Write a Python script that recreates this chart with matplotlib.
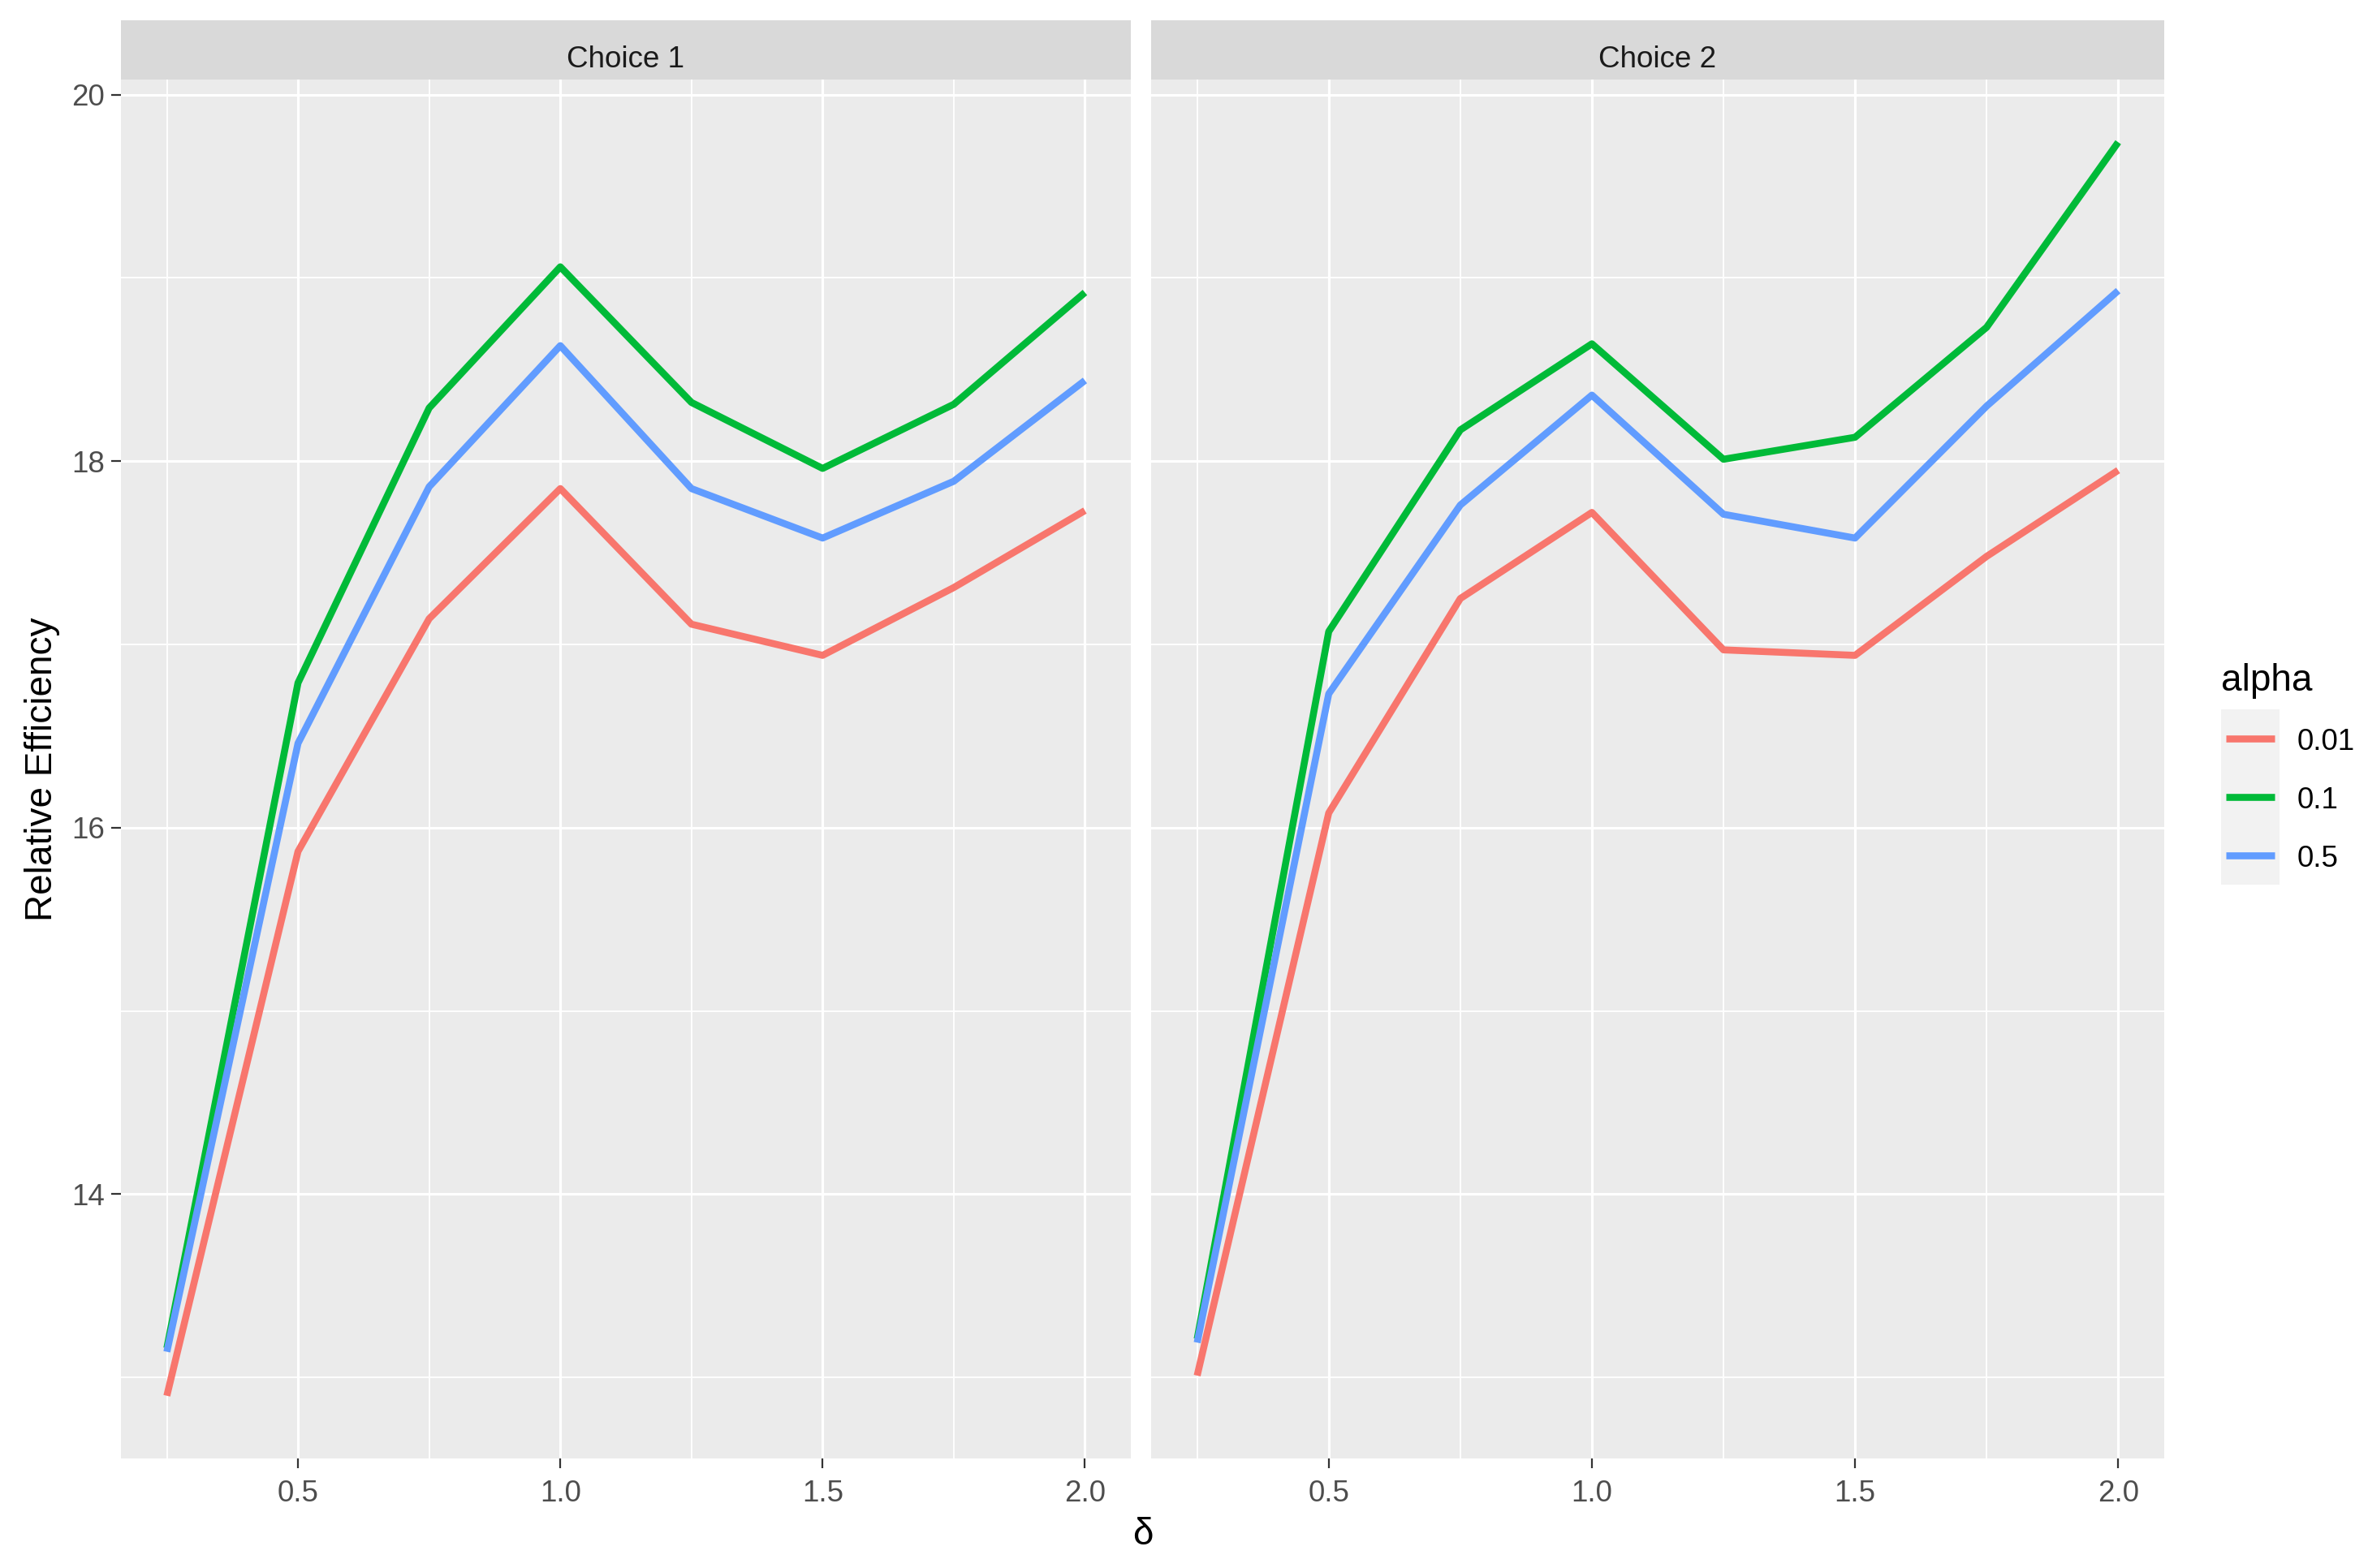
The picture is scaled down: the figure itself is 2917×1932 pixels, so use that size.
import matplotlib
matplotlib.use("Agg")
import matplotlib.pyplot as plt
from matplotlib.ticker import FixedLocator

plt.rcParams['font.family'] = ['Liberation Sans', 'DejaVu Sans']

# ---- data ----
delta = [0.25, 0.5, 0.75, 1.0, 1.25, 1.5, 1.75, 2.0]
panels = ["Choice 1", "Choice 2"]
alphas = ["0.01", "0.1", "0.5"]
colors = ["#F8766D", "#00BA38", "#619CFF"]

choice1_a001 = [12.90, 15.87, 17.14, 17.85, 17.11, 16.94, 17.31, 17.73]
choice1_a01 = [13.16, 16.79, 18.29, 19.06, 18.32, 17.96, 18.31, 18.92]
choice1_a05 = [13.14, 16.46, 17.86, 18.63, 17.85, 17.58, 17.89, 18.44]
choice2_a001 = [13.01, 16.08, 17.25, 17.72, 16.97, 16.94, 17.48, 17.95]
choice2_a01 = [13.21, 17.07, 18.17, 18.64, 18.01, 18.13, 18.73, 19.74]
choice2_a05 = [13.19, 16.73, 17.76, 18.36, 17.71, 17.58, 18.30, 18.93]

series = {
    "Choice 1": [choice1_a001, choice1_a01, choice1_a05],
    "Choice 2": [choice2_a001, choice2_a01, choice2_a05],
}

x_major = [0.5, 1.0, 1.5, 2.0]
x_minor = [0.25, 0.75, 1.25, 1.75]
y_major = [14, 16, 18, 20]
y_minor = [13, 15, 17, 19]

# ---- layout ----
W, H = 2917, 1932
dpi = 100
fig = plt.figure(figsize=(W / dpi, H / dpi), dpi=dpi)
fig.patch.set_facecolor("white")

def fx(px):
    return px / W

def fy(py):
    return 1 - py / H

panel_top, panel_bot = 98, 1797
strip_top = 25
panel_x = [(149, 1393), (1418, 2666)]

allv = [v for p in panels for s in series[p] for v in s]
ymin, ymax = min(allv), max(allv)
yr = ymax - ymin
ylim = (ymin - 0.05 * yr, ymax + 0.05 * yr)
xr = max(delta) - min(delta)
xlim = (min(delta) - 0.05 * xr, max(delta) + 0.05 * xr)

tick_fs = 26.5
title_fs = 33

for i, (pname, (x0, x1)) in enumerate(zip(panels, panel_x)):
    ax = fig.add_axes([fx(x0), fy(panel_bot), fx(x1) - fx(x0), fy(panel_top) - fy(panel_bot)])
    ax.set_facecolor("#EBEBEB")
    for sp in ax.spines.values():
        sp.set_visible(False)
    ax.set_xlim(*xlim)
    ax.set_ylim(*ylim)
    ax.xaxis.set_major_locator(FixedLocator(x_major))
    ax.xaxis.set_minor_locator(FixedLocator(x_minor))
    ax.yaxis.set_major_locator(FixedLocator(y_major))
    ax.yaxis.set_minor_locator(FixedLocator(y_minor))
    ax.grid(which="major", color="white", linewidth=2.3)
    ax.grid(which="minor", color="white", linewidth=1.3)
    ax.set_axisbelow(True)
    ax.tick_params(which="minor", length=0)
    ax.tick_params(which="major", length=8.5, width=1.6, color="#333333",
                   labelsize=tick_fs, labelcolor="#4D4D4D", pad=6)
    ax.tick_params(axis="x", which="major", pad=10.5)
    ax.set_xticklabels([f"{v:.1f}" for v in x_major])
    if i == 0:
        ax.set_yticklabels([str(v) for v in y_major])
    else:
        ax.tick_params(axis="y", which="major", length=0, labelleft=False)

    for s, c in zip(series[pname], colors):
        ax.plot(delta, s, color=c, linewidth=6.2, solid_joinstyle="round",
                solid_capstyle="butt", zorder=3)

    # strip
    sax = fig.add_axes([fx(x0), fy(panel_top), fx(x1) - fx(x0), fy(strip_top) - fy(panel_top)])
    sax.set_facecolor("#D9D9D9")
    sax.set_xticks([])
    sax.set_yticks([])
    for sp in sax.spines.values():
        sp.set_visible(False)
    sax.text(0.5, (panel_top - 83) / (panel_top - strip_top), pname, ha="center",
             va="baseline", fontsize=tick_fs, color="#1A1A1A", transform=sax.transAxes)

# axis titles
fig.text(fx(52), (fy(panel_top) + fy(panel_bot)) / 2, "Relative Efficiency",
         rotation=90, ha="center", va="center", fontsize=title_fs, color="black")
fig.text(fx(1408), fy(1891), "δ", ha="center", va="center", fontsize=title_fs, color="black")

# legend
kx0, kx1, ky0, ky1 = 2736, 2808, 874, 1090
lax = fig.add_axes([fx(kx0), fy(ky1), fx(kx1) - fx(kx0), fy(ky0) - fy(ky1)])
lax.set_facecolor("#F2F2F2")
lax.set_xlim(0, 1)
lax.set_ylim(0, 1)
lax.set_xticks([])
lax.set_yticks([])
for sp in lax.spines.values():
    sp.set_visible(False)
n = len(alphas)
key_h = (ky1 - ky0) / n
for k, (lab, c) in enumerate(zip(alphas, colors)):
    yc_px = ky0 + key_h * (k + 0.5)
    yc = 1 - (yc_px - ky0) / (ky1 - ky0)
    lax.plot([0.08, 0.92], [yc, yc], color=c, linewidth=6.2, solid_capstyle="butt")
    fig.text(fx(2830), fy(yc_px + 14), lab,
             ha="left", va="baseline", fontsize=tick_fs, color="black")
fig.text(fx(2736), fy(851), "alpha", ha="left", va="baseline", fontsize=title_fs, color="black")

fig.savefig("out.png", dpi=dpi, facecolor="white")
